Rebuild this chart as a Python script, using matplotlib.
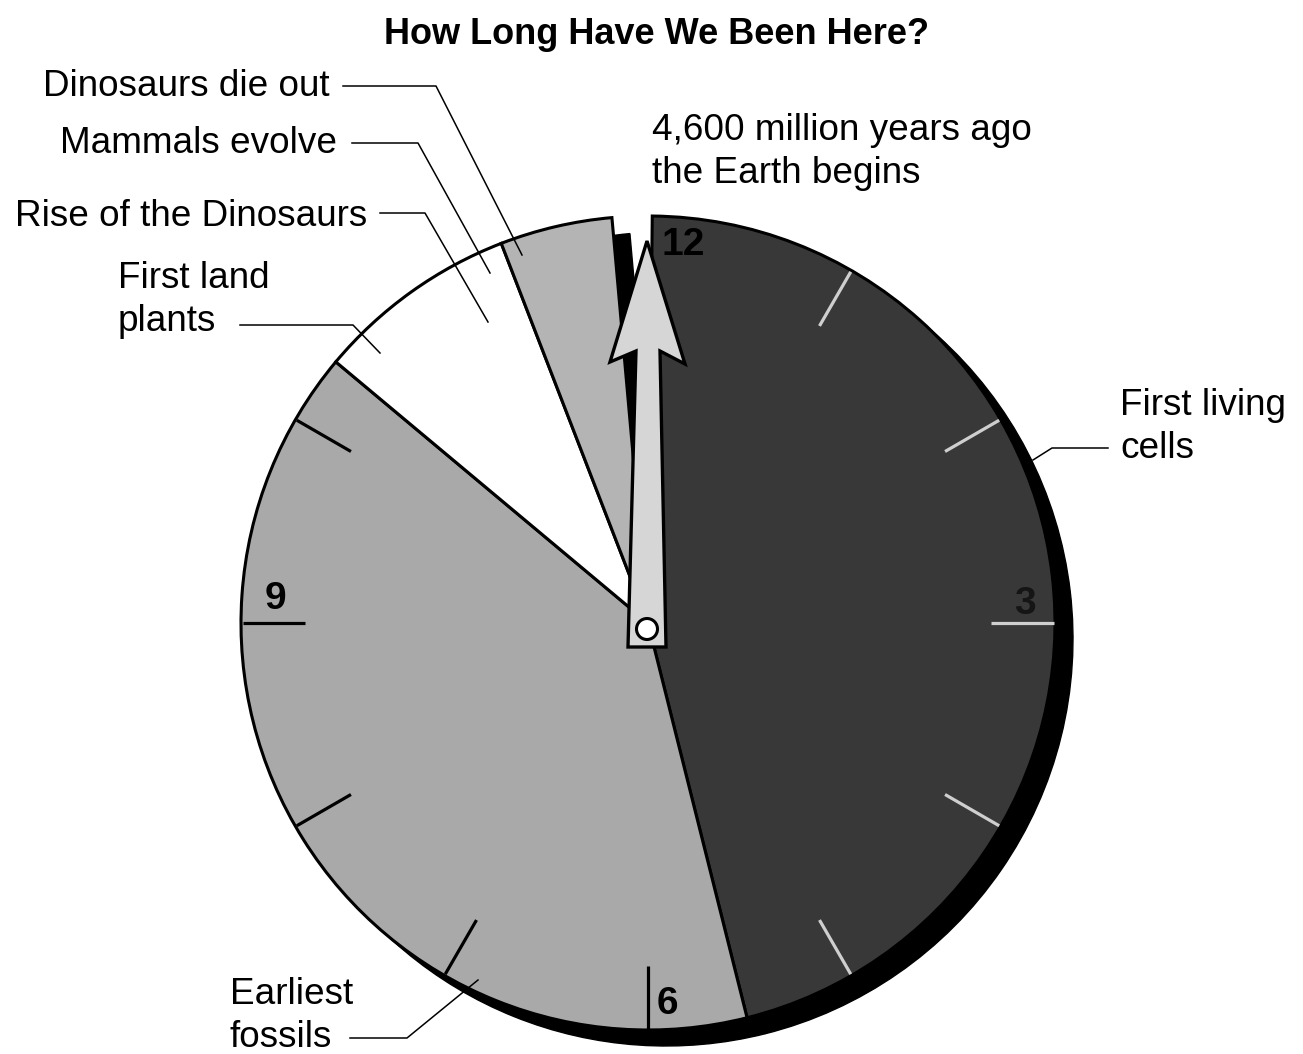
import matplotlib
matplotlib.use("Agg")
import numpy as np
import matplotlib.pyplot as plt
from matplotlib.patches import Wedge, Polygon, Circle

# ---------------- data ----------------
title = "How Long Have We Been Here?"
earth_age_mya = 4600
period_names = ["First living cells", "Earliest fossils", "First land plants", "Dinosaurs"]
period_start_mya = [4600, 2480, 640, 270]
period_end_mya = [2480, 640, 270, 65]
period_colors = ["#383838", "#a9a9a9", "#ffffff", "#b4b4b4"]
clock_numbers = ["12", "3", "6", "9"]
tick_hours = [1, 2, 3, 4, 5, 6, 7, 8, 9, 10]

label_texts = ["Dinosaurs die out", "Mammals evolve", "Rise of the Dinosaurs",
               "First land\nplants", "4,600 million years ago\nthe Earth begins",
               "First living\ncells", "Earliest\nfossils"]

# ---------------- layout / style ----------------
W, H = 1303, 1054
CX, CY, R = 648, 623, 407
SHADOW = (18, 16)
GAP_DEG = 0.6
FONT = ["Liberation Sans", "DejaVu Sans"]

fig = plt.figure(figsize=(W / 100, H / 100), dpi=100)
ax = fig.add_axes([0, 0, 1, 1])
ax.set_xlim(0, W)
ax.set_ylim(H, 0)
ax.set_aspect("equal")
ax.axis("off")


def mya_to_clock(m):
    return (earth_age_mya - m) / earth_age_mya * 360.0


def clock_xy(phi, r, cx=CX, cy=CY):
    a = np.deg2rad(phi)
    return cx + r * np.sin(a), cy - r * np.cos(a)


slices = []
for i, (s, e) in enumerate(zip(period_start_mya, period_end_mya)):
    p1, p2 = mya_to_clock(s), mya_to_clock(e)
    if i == 0:
        p1 += GAP_DEG
    slices.append((p1, p2))

# shadows
for (p1, p2) in slices:
    ax.add_patch(Wedge((CX + SHADOW[0], CY + SHADOW[1]), R, p1 - 90, p2 - 90,
                       fc="black", ec="black", lw=1.0, zorder=1))
# slices
for (p1, p2), col in zip(slices, period_colors):
    ax.add_patch(Wedge((CX, CY), R, p1 - 90, p2 - 90,
                       fc=col, ec="black", lw=2.2, zorder=2))

# hour ticks
for h in tick_hours:
    phi = h * 30.0
    idx = [k for k, (p1, p2) in enumerate(slices) if p1 <= phi <= p2]
    if not idx or period_colors[idx[0]] == "#ffffff":
        continue
    col = "#cfcfcf" if idx[0] == 0 else "black"
    x0, y0 = clock_xy(phi, R - 64)
    x1, y1 = clock_xy(phi, R - 1.5)
    ax.plot([x0, x1], [y0, y1], color=col, lw=2.3, solid_capstyle="butt", zorder=3)

# clock numbers
num_pos = [(683, 245), (1025, 604), (667, 1004), (275, 599)]
num_col = ["black", "#151515", "black", "black"]
for t, (x, y), c in zip(clock_numbers, num_pos, num_col):
    ax.text(x, y, t, ha="center", va="center", fontsize=28, fontweight="bold",
            color=c, family=FONT, zorder=4)

# hand
hand_local = [(-1, -382), (37, -259), (12, -272), (18, 24), (-20, 24),
              (-12, -272), (-38, -261)]
hand = [(CX + dx, CY + dy) for dx, dy in hand_local]
ax.add_patch(Polygon(hand, closed=True, fc="#d6d6d6", ec="black", lw=2.4,
                     joinstyle="miter", zorder=5))
ax.add_patch(Circle((CX - 1, CY + 6), 10.5, fc="white", ec="black", lw=2.2, zorder=6))

# leaders
leaders = [
    [(343, 86), (436, 86), (522, 255)],
    [(352, 143), (418, 143), (490, 273)],
    [(380, 213), (425, 213), (488, 322)],
    [(240, 325), (353, 325), (380, 353)],
    [(1108, 448), (1052, 448), (1033, 460)],
    [(350, 1038), (407, 1038), (478, 980)],
]
for pts in leaders:
    xs, ys = zip(*pts)
    ax.plot(xs, ys, color="black", lw=1.1, zorder=7)

# labels
lab_pos = [(330, 96, "right"), (337, 153, "right"), (367, 226, "right"),
           (118, 288, "left"), (652, 140, "left"), (1120, 415, "left"),
           (230, 1004, "left")]
for t, (x, y, ha) in zip(label_texts, lab_pos):
    lines = t.split("\n")
    for j, ln in enumerate(lines):
        ax.text(x, y + j * 43, ln, ha=ha, va="baseline", fontsize=26.6,
                family=FONT, color="black", zorder=8)

ax.text(657, 44, title, ha="center", va="baseline", fontsize=26,
        fontweight="bold", family=FONT, color="black", zorder=8)

fig.savefig("out.png", dpi=100)
